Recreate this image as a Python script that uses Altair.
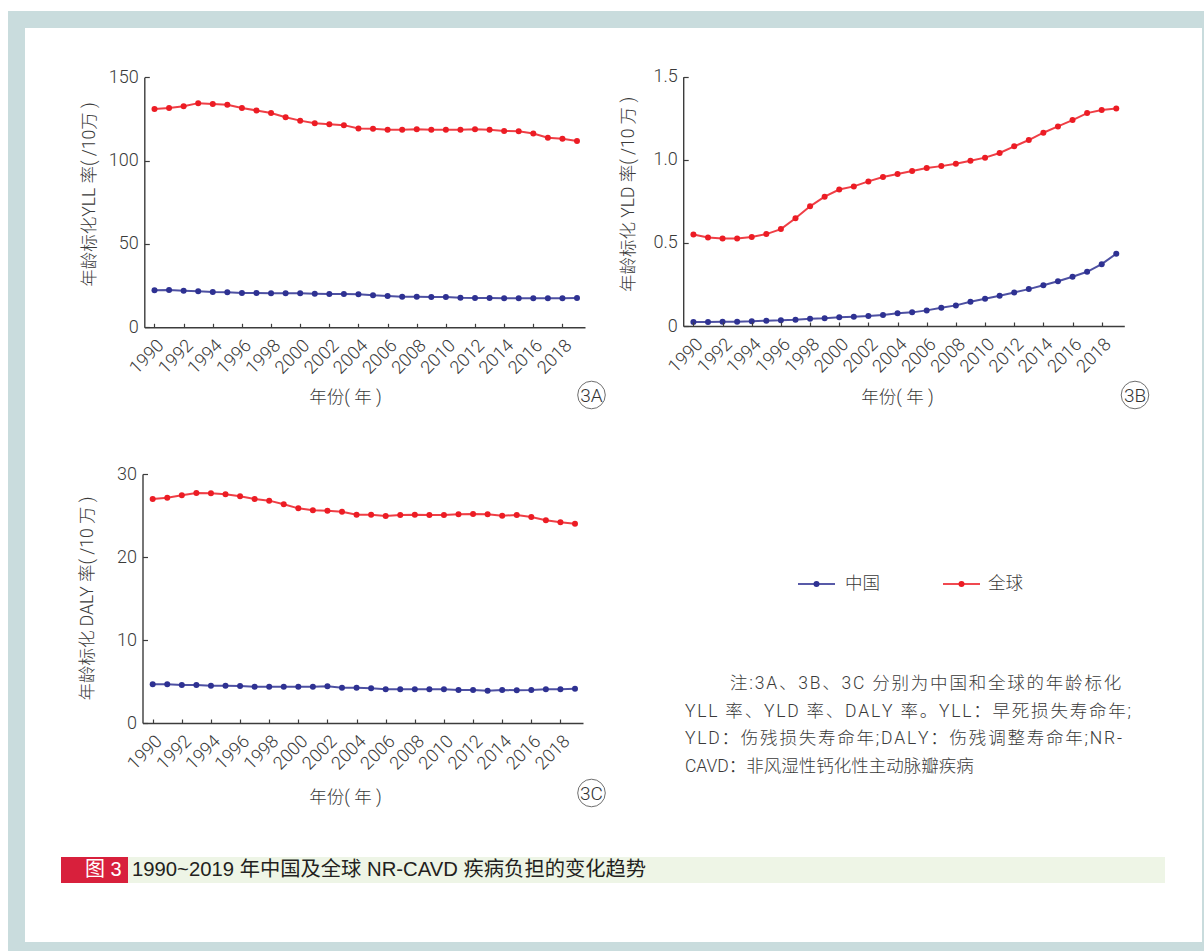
import altair as alt
import pandas as pd

# ---- data -------------------------------------------------------------
years = list(range(1990, 2020))
series_names = ["中国", "全球"]
series_colors = ["#2e3192", "#ec1c24"]

china_yll = [22.2, 22.4, 22.0, 21.6, 21.2, 21.0, 20.6, 20.6, 20.4, 20.4,
             20.4, 20.2, 20.0, 20.0, 19.8, 19.2, 18.8, 18.4, 18.4, 18.2,
             18.2, 17.8, 17.6, 17.6, 17.4, 17.4, 17.4, 17.4, 17.4, 17.6]
global_yll = [131.0, 131.6, 132.6, 134.5, 134.0, 133.5, 131.6, 130.1, 128.6, 126.0,
              124.0, 122.5, 121.9, 121.3, 119.3, 119.1, 118.6, 118.6, 118.8, 118.6,
              118.6, 118.6, 118.8, 118.5, 117.8, 117.6, 116.3, 113.7, 113.1, 111.8]

china_yld = [0.024, 0.024, 0.026, 0.026, 0.028, 0.032, 0.034, 0.038, 0.044, 0.046,
             0.052, 0.056, 0.060, 0.066, 0.076, 0.082, 0.094, 0.110, 0.124, 0.146,
             0.164, 0.182, 0.202, 0.222, 0.245, 0.269, 0.296, 0.326, 0.372, 0.435]
global_yld = [0.551, 0.533, 0.527, 0.527, 0.535, 0.553, 0.583, 0.648, 0.720, 0.778,
              0.821, 0.840, 0.870, 0.896, 0.914, 0.932, 0.950, 0.962, 0.976, 0.994,
              1.013, 1.041, 1.081, 1.119, 1.163, 1.201, 1.239, 1.281, 1.299, 1.309]

china_daly = [4.66, 4.66, 4.58, 4.58, 4.50, 4.50, 4.46, 4.38, 4.38, 4.38,
              4.38, 4.38, 4.42, 4.26, 4.26, 4.18, 4.06, 4.06, 4.06, 4.06,
              4.06, 3.98, 3.98, 3.90, 3.98, 3.94, 3.98, 4.06, 4.06, 4.14]
global_daly = [26.99, 27.15, 27.43, 27.71, 27.67, 27.55, 27.31, 26.99, 26.79, 26.35,
               25.86, 25.62, 25.58, 25.46, 25.10, 25.10, 24.94, 25.06, 25.10, 25.06,
               25.06, 25.14, 25.18, 25.14, 24.98, 25.06, 24.82, 24.42, 24.18, 24.02]

x_ticks = list(range(1990, 2019, 2))
yll_ticks = [0, 50, 100, 150]
yld_ticks = [0, 0.5, 1.0, 1.5]
daly_ticks = [0, 10, 20, 30]

x_title = "年份( 年 )"
yll_title = "年龄标化YLL 率( /10万 )"
yld_title = "年龄标化 YLD 率( /10 万 )"
daly_title = "年龄标化 DALY 率( /10 万 )"

note_lines = [
    "注:3A、3B、3C 分别为中国和全球的年龄标化",
    "YLL 率、YLD 率、DALY 率。YLL：早死损失寿命年;",
    "YLD：伤残损失寿命年;DALY：伤残调整寿命年;NR-",
    "CAVD：非风湿性钙化性主动脉瓣疾病",
]
fig_tag = "图 3"
fig_caption = "1990~2019 年中国及全球 NR-CAVD 疾病负担的变化趋势"

# ---- styling ------------------------------------------------------------
W, H = 1204, 951
FONT = "Roboto, 'Noto Sans CJK SC', sans-serif"
CAP_FONT = "'Liberation Sans', 'Noto Sans CJK SC', sans-serif"
INK = "#3a3a3a"
AXIS = "#3c3c3c"
HAIR = "\u200a"  # hair space used to loosen the justified note lines
ONE = pd.DataFrame({"_": [0]})

AXIS_STYLE = dict(
    grid=False, zindex=1,
    domainColor=AXIS, domainWidth=1.4,
    tickColor=AXIS, tickWidth=1.2,
    labelColor=INK, labelFont=FONT, labelFontSize=18, labelFontWeight=300,
    titleColor=INK, titleFont=FONT, titleFontSize=17.5, titleFontWeight=300,
)


def long_table(china, world):
    return pd.DataFrame({
        "year": years * 2,
        "value": china + world,
        "region": [series_names[0]] * len(years) + [series_names[1]] * len(years),
    })


def panel(china, world, y_ticks, y_title, x_px, y_px, y_max,
          x_title_pos, x_title_dy, y_title_pos, label_expr=None):
    x_left, x_right = x_px
    y_bottom, y_top = y_px
    y_axis_kw = dict(
        orient="left", offset=-x_left, values=y_ticks, title=y_title,
        tickSize={"expr": "-5"}, labelPadding=11,
        titleX=-55, titleY=y_title_pos, titleBaseline="middle", titleAngle=270,
        **AXIS_STYLE,
    )
    if label_expr:
        y_axis_kw["labelExpr"] = label_expr
    return alt.Chart(long_table(china, world)).mark_line(
        strokeWidth=2, opacity=0.85,
        point=alt.OverlayMarkDef(filled=True, size=36, opacity=1),
    ).encode(
        x=alt.X(
            "year:Q",
            scale=alt.Scale(domain=[1989.3, 2019.55], range=[x_left, x_right],
                            nice=False, zero=False),
            axis=alt.Axis(
                orient="bottom", offset=y_bottom - H, values=x_ticks, format="d",
                labelAngle=315, labelAlign="right", labelBaseline="top",
                labelOverlap=False, labelFlush=False, labelPadding=13,
                tickSize={"expr": "-4"}, title=x_title,
                titleX=x_title_pos, titleY=x_title_dy, titleBaseline="middle",
                **AXIS_STYLE,
            ),
        ),
        y=alt.Y(
            "value:Q",
            scale=alt.Scale(domain=[0, y_max], range=[y_bottom, y_top], nice=False),
            axis=alt.Axis(**y_axis_kw),
        ),
        color=alt.Color("region:N",
                        scale=alt.Scale(domain=series_names, range=series_colors),
                        legend=None),
    )


def text(txt, x, y, size, color=INK, font=FONT, weight=300, align="left"):
    return alt.Chart(ONE).mark_text(
        text=txt, align=align, baseline="middle", fontSize=size,
        font=font, fontWeight=weight, color=color,
    ).encode(x=alt.value(x), y=alt.value(y))


def box(x, x2, y, y2, color):
    return alt.Chart(ONE).mark_rect(color=color).encode(
        x=alt.value(x), x2=alt.value(x2), y=alt.value(y), y2=alt.value(y2))


def circled(label, x, y):
    ring = alt.Chart(ONE).mark_point(
        shape="circle", filled=False, size=760, stroke="#333333", strokeWidth=1,
    ).encode(x=alt.value(x), y=alt.value(y))
    return ring + text(label, x, y + 0.5, 19, color="#333333", align="center")


def legend_entry(name, color, x0, x1, tx, y):
    line = alt.Chart(ONE).mark_rule(color=color, strokeWidth=2, opacity=0.8).encode(
        x=alt.value(x0), x2=alt.value(x1), y=alt.value(y))
    dot = alt.Chart(ONE).mark_point(filled=True, size=36, color=color, opacity=1).encode(
        x=alt.value((x0 + x1) / 2), y=alt.value(y))
    return line + dot + text(name, tx, y, 17.5)


yld_fmt = "datum.value == 0 ? '0' : format(datum.value, '.1f')"

panel_a = panel(china_yll, global_yll, yll_ticks, yll_title,
                (144.3, 585), (327.3, 77.3), 150, 345, 70, 194)
panel_b = panel(china_yld, global_yld, yld_ticks, yld_title,
                (683.2, 1124.3), (326, 76.7), 1.5, 897, 71, 194, label_expr=yld_fmt)
panel_c = panel(china_daly, global_daly, daly_ticks, daly_title,
                (142.5, 583), (723, 474), 30, 345, 74, 598)

frame = box(8, 1204, 11, 951, "#c9dcdd") + box(25, 1202, 28, 942, "#ffffff")
caption = (
    box(61, 128, 857, 883, "#d8203c")
    + box(128, 1165, 857, 883, "#eef5e6")
    + text(fig_tag, 85, 870, 20, color="#ffffff", font=CAP_FONT, weight=400)
    + text(fig_caption, 132, 870, 20.3, color="#231f20", font=CAP_FONT, weight=400)
)
legend = (legend_entry(series_names[0], series_colors[0], 798, 835, 845, 584)
          + legend_entry(series_names[1], series_colors[1], 943, 980, 988, 584))
note = alt.layer(*[
    text(line if i == len(note_lines) - 1 else HAIR.join(line),
         730 if i == 0 else 685, 684 + 27.6 * i, 17.5)
    for i, line in enumerate(note_lines)
])
tags = circled("3A", 591.5, 395) + circled("3B", 1135, 395) + circled("3C", 591.5, 793)

chart = alt.layer(
    frame, caption, panel_a, panel_b, panel_c, legend, note, tags,
).resolve_scale(
    x="independent", y="independent",
).resolve_axis(
    x="independent", y="independent",
).properties(
    width=W, height=H, padding=0,
    autosize=alt.AutoSizeParams(type="none"),
    background="#ffffff",
).configure_view(
    strokeWidth=0,
)

chart.save("out.html", embed_options={"renderer": "svg", "actions": False})
